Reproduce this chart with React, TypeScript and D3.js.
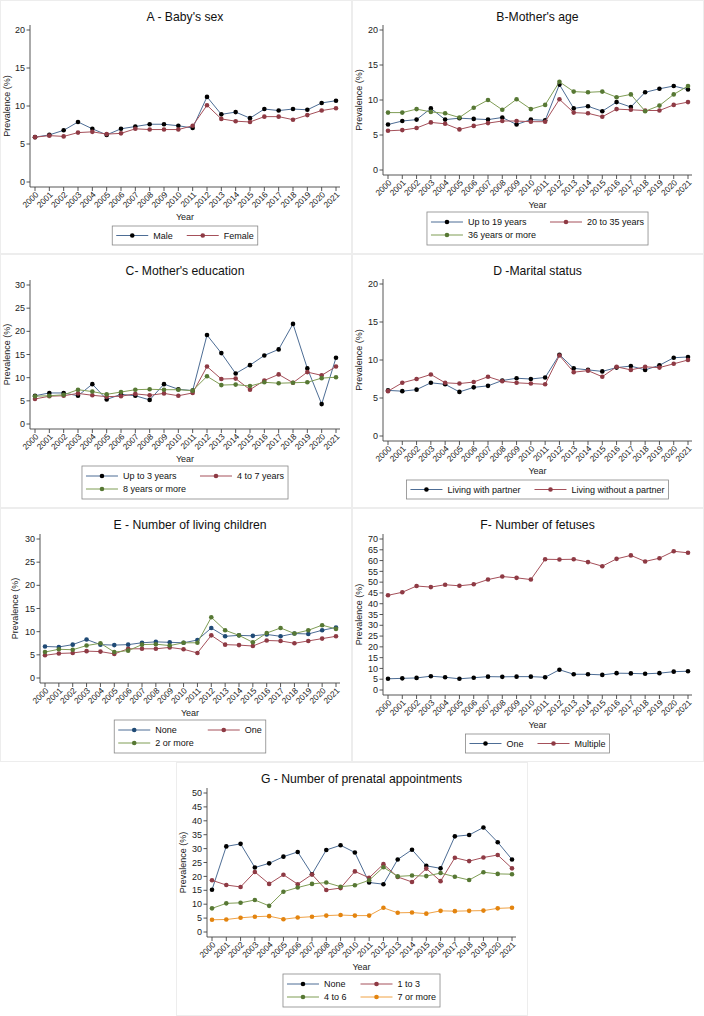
import React from 'react';
import * as d3 from 'd3';

// years on the x axis
const years = [2000, 2001, 2002, 2003, 2004, 2005, 2006, 2007, 2008, 2009, 2010,
  2011, 2012, 2013, 2014, 2015, 2016, 2017, 2018, 2019, 2020, 2021];

// A - Baby's sex
const sexMale = [5.9, 6.2, 6.8, 7.9, 7.0, 6.2, 7.0, 7.3, 7.6, 7.6, 7.4, 7.1, 11.2, 8.9, 9.2, 8.4, 9.6, 9.4, 9.6, 9.5, 10.4, 10.7];
const sexFemale = [5.9, 6.1, 6.0, 6.5, 6.6, 6.3, 6.4, 7.0, 6.9, 6.9, 6.9, 7.4, 10.1, 8.3, 8.0, 7.9, 8.6, 8.6, 8.2, 8.8, 9.4, 9.7];

// B - Mother's age
const ageUpTo19 = [6.5, 7.0, 7.2, 8.8, 7.2, 7.4, 7.3, 7.2, 7.5, 6.5, 7.2, 7.1, 12.2, 8.8, 9.1, 8.4, 9.7, 9.0, 11.1, 11.6, 12.0, 11.5];
const age20to35 = [5.6, 5.7, 6.0, 6.8, 6.6, 5.8, 6.3, 6.7, 7.0, 7.0, 6.9, 6.9, 10.1, 8.2, 8.1, 7.6, 8.7, 8.6, 8.5, 8.5, 9.3, 9.7];
const age36plus = [8.2, 8.2, 8.7, 8.3, 8.1, 7.5, 8.9, 10.0, 8.6, 10.1, 8.7, 9.3, 12.6, 11.2, 11.1, 11.2, 10.4, 10.8, 8.4, 9.2, 10.8, 12.0];

// C - Mother's education
const eduUpTo3 = [6.1, 6.7, 6.7, 6.1, 8.6, 5.3, 6.4, 6.1, 5.2, 8.6, 7.5, 7.2, 19.2, 15.3, 10.9, 12.7, 14.8, 16.1, 21.6, 12.0, 4.3, 14.3];
const edu4to7 = [5.4, 6.0, 6.1, 6.6, 6.2, 5.9, 6.0, 6.5, 6.2, 6.6, 6.1, 6.7, 12.4, 9.7, 9.8, 7.4, 9.4, 10.7, 8.9, 11.2, 10.5, 12.4];
const edu8plus = [6.0, 6.1, 6.3, 7.4, 7.0, 6.4, 6.9, 7.4, 7.5, 7.4, 7.4, 7.2, 10.3, 8.4, 8.5, 8.2, 9.0, 8.8, 8.9, 9.0, 9.9, 10.1];

// D - Marital status
const withPartner = [6.0, 5.9, 6.1, 7.0, 6.8, 5.8, 6.4, 6.6, 7.3, 7.6, 7.5, 7.7, 10.7, 8.9, 8.7, 8.5, 9.0, 9.2, 8.7, 9.3, 10.3, 10.4];
const withoutPartner = [5.9, 7.0, 7.5, 8.1, 7.0, 6.9, 7.1, 7.8, 7.2, 7.0, 6.9, 6.8, 10.6, 8.4, 8.6, 7.8, 9.1, 8.7, 9.1, 9.0, 9.5, 10.0];

// E - Number of living children
const childNone = [6.8, 6.7, 7.2, 8.3, 7.2, 7.1, 7.2, 7.6, 7.8, 7.7, 7.6, 8.2, 10.8, 9.0, 9.2, 9.1, 9.4, 9.0, 9.6, 9.5, 10.3, 10.9];
const childOne = [4.9, 5.3, 5.4, 5.8, 5.7, 5.2, 6.3, 6.3, 6.3, 6.6, 6.2, 5.4, 9.2, 7.2, 7.1, 6.9, 8.1, 8.0, 7.5, 8.0, 8.5, 9.0];
const child2plus = [5.6, 6.2, 6.1, 7.0, 7.5, 5.6, 5.9, 7.2, 7.3, 7.0, 7.6, 7.6, 13.1, 10.3, 9.2, 7.7, 9.7, 10.8, 9.6, 10.3, 11.4, 10.6];

// F - Number of fetuses
const fetusOne = [5.2, 5.4, 5.6, 6.4, 5.9, 5.2, 5.7, 6.2, 6.1, 6.2, 6.2, 5.9, 9.4, 7.3, 7.3, 7.0, 7.8, 7.7, 7.5, 7.8, 8.5, 8.7];
const fetusMultiple = [43.9, 45.3, 48.2, 47.7, 48.8, 48.3, 49.0, 51.2, 52.6, 52.0, 51.2, 60.6, 60.5, 60.6, 59.3, 57.4, 60.8, 62.4, 59.6, 61.1, 64.3, 63.6];

// G - Number of prenatal appointments
const apptNone = [15.2, 30.8, 31.7, 23.2, 24.7, 27.1, 28.8, 20.8, 29.5, 31.2, 28.6, 17.8, 17.2, 26.1, 29.6, 23.8, 22.9, 34.4, 34.9, 37.6, 32.3, 26.1];
const appt1to3 = [18.6, 16.9, 16.2, 21.6, 17.3, 20.6, 17.2, 20.7, 15.1, 15.8, 21.8, 19.5, 24.4, 19.8, 18.0, 22.8, 18.3, 26.7, 25.5, 26.8, 27.7, 22.9];
const appt4to6 = [8.5, 10.3, 10.5, 11.5, 9.4, 14.5, 16.0, 17.3, 17.8, 16.3, 16.8, 18.6, 23.3, 20.0, 20.3, 20.1, 21.2, 19.9, 18.7, 21.5, 20.9, 20.8];
const appt7plus = [4.4, 4.5, 5.1, 5.5, 5.7, 4.6, 5.2, 5.5, 5.9, 6.1, 5.9, 5.9, 8.7, 6.9, 7.0, 6.6, 7.6, 7.5, 7.6, 7.7, 8.5, 8.7];

const FONT = "'Liberation Sans', Arial, Helvetica, sans-serif";

// stata-like colours: line colour / marker colour
const C1 = { line: '#4d6d95', marker: '#000000' };
const C1navy = { line: '#4d6d95', marker: '#1f4a75' };
const C2 = { line: '#a5505a', marker: '#8e3a44' };
const C3 = { line: '#7f9d55', marker: '#577834' };
const C4 = { line: '#f0a245', marker: '#e3840f' };

const panels = [
  {
    key: 'A', ox: 0, oy: 0, title: "A - Baby's sex", yMax: 30 - 10, zeroY: 182, topY: 30, axisX: 30, labelX: 7,
    series: [{ name: 'Male', values: sexMale, ...C1 }, { name: 'Female', values: sexFemale, ...C2 }],
  },
  {
    key: 'B', ox: 352, oy: 0, title: "B-Mother's age", yMax: 20, zeroY: 170, topY: 30, axisX: 31, labelX: 7,
    series: [
      { name: 'Up to 19 years', values: ageUpTo19, ...C1 },
      { name: '20 to 35 years', values: age20to35, ...C2 },
      { name: '36 years or more', values: age36plus, ...C3 },
    ],
  },
  {
    key: 'C', ox: 0, oy: 254, title: "C- Mother's education", yMax: 30, zeroY: 170, topY: 31, axisX: 30, labelX: 7,
    series: [
      { name: 'Up to 3 years', values: eduUpTo3, ...C1 },
      { name: '4 to 7 years', values: edu4to7, ...C2 },
      { name: '8 years or more', values: edu8plus, ...C3 },
    ],
  },
  {
    key: 'D', ox: 352, oy: 254, title: 'D -Marital status', yMax: 20, zeroY: 182, topY: 30, axisX: 31, labelX: 7,
    series: [
      { name: 'Living with partner', values: withPartner, ...C1 },
      { name: 'Living without a partner', values: withoutPartner, ...C2 },
    ],
  },
  {
    key: 'E', ox: 0, oy: 508, title: 'E - Number of living children', yMax: 30, zeroY: 170, topY: 31, axisX: 40, labelX: 15,
    series: [
      { name: 'None', values: childNone, ...C1navy },
      { name: 'One', values: childOne, ...C2 },
      { name: '2 or more', values: child2plus, ...C3 },
    ],
  },
  {
    key: 'F', ox: 352, oy: 508, title: 'F- Number of fetuses', yMax: 70, zeroY: 182, topY: 31, axisX: 31, labelX: 7,
    series: [
      { name: 'One', values: fetusOne, ...C1 },
      { name: 'Multiple', values: fetusMultiple, ...C2 },
    ],
  },
  {
    key: 'G', ox: 176, oy: 762, title: 'G - Number of prenatal appointments', yMax: 50, zeroY: 170, topY: 31, axisX: 31, labelX: 7,
    series: [
      { name: 'None', values: apptNone, ...C1 },
      { name: '1 to 3', values: appt1to3, ...C2 },
      { name: '4 to 6', values: appt4to6, ...C3 },
      { name: '7 or more', values: appt7plus, ...C4 },
    ],
  },
];

const PW = 352;
const PH = 254;
const X_END = 340;
const LAST_X = 336;

let ctx: CanvasRenderingContext2D | null = null;
const textWidth = (s: string, size: number) => {
  if (!ctx) ctx = document.createElement('canvas').getContext('2d');
  if (!ctx) return s.length * size * 0.5;
  ctx.font = `${size}px ${FONT}`;
  return ctx.measureText(s).width;
};

const Panel: React.FC<{ p: any }> = ({ p }) => {
  const x = d3.scaleLinear().domain([2000, 2021]).range([p.axisX + 5, LAST_X]);
  const y = d3.scaleLinear().domain([0, p.yMax]).range([p.zeroY, p.topY]);
  const yTicks = d3.range(0, p.yMax + 1, 5);
  const axisY = p.zeroY + 5;
  const axisTop = p.topY - 5;
  const line = d3.line<number>().x((_, i) => x(years[i])).y(d => y(d));
  const cx = (p.axisX + X_END) / 2;

  // legend layout
  const twoRows = p.series.length > 2;
  const lineLen = 32, gap = 5, colGap = 14, pad = 4, fs = 9;
  const col1 = p.series.filter((_: any, i: number) => i % 2 === 0);
  const col2 = p.series.filter((_: any, i: number) => i % 2 === 1);
  const w1 = d3.max(col1, (s: any) => textWidth(s.name, fs)) as number;
  const w2 = d3.max(col2, (s: any) => textWidth(s.name, fs)) as number;
  const colW = lineLen + gap + w1 + colGap;
  const boxW = pad * 2 + colW + lineLen + gap + w2;
  const boxX = cx - boxW / 2;
  const boxY = twoRows ? 212 : 226;
  const boxH = twoRows ? 33 : 19;
  const rowY = twoRows ? [boxY + 10, boxY + 23] : [boxY + 9.5];

  return (
    <g transform={`translate(${p.ox},${p.oy})`} fontFamily={FONT}>
      <rect x={0.5} y={0.5} width={PW - 1} height={PH - 1} fill="#fff" stroke="#ededed" />
      <text x={cx} y={21} textAnchor="middle" fontSize={12.2} fill="#111">{p.title}</text>

      {/* y axis */}
      <line x1={p.axisX} x2={p.axisX} y1={axisTop} y2={axisY} stroke="#444" strokeWidth={0.9} />
      {yTicks.map(t => (
        <g key={t}>
          <line x1={p.axisX - 3.5} x2={p.axisX} y1={y(t)} y2={y(t)} stroke="#444" strokeWidth={0.9} />
          <text x={p.axisX - 5} y={y(t)} dy="0.35em" textAnchor="end" fontSize={9} fill="#222">{t}</text>
        </g>
      ))}
      <text transform={`translate(${p.labelX},${(p.zeroY + p.topY) / 2}) rotate(-90)`} textAnchor="middle"
        dy="0.35em" fontSize={9} fill="#222">Prevalence (%)</text>

      {/* x axis */}
      <line x1={p.axisX} x2={X_END} y1={axisY} y2={axisY} stroke="#444" strokeWidth={0.9} />
      {years.map(yr => (
        <g key={yr}>
          <line x1={x(yr)} x2={x(yr)} y1={axisY} y2={axisY + 4} stroke="#444" strokeWidth={0.9} />
          <text transform={`translate(${x(yr) + 2},${axisY + 6}) rotate(-45)`} textAnchor="end" dy="0.35em"
            fontSize={8.4} fill="#222">{yr}</text>
        </g>
      ))}
      <text x={cx} y={axisY + 30} dy="0.35em" textAnchor="middle" fontSize={9} fill="#222">Year</text>

      {/* series */}
      {p.series.map((s: any) => (
        <g key={s.name}>
          <path d={line(s.values) || ''} fill="none" stroke={s.line} strokeWidth={1} />
          {s.values.map((v: number, i: number) => (
            <circle key={i} cx={x(years[i])} cy={y(v)} r={2.3} fill={s.marker} />
          ))}
        </g>
      ))}

      {/* legend */}
      <rect x={boxX} y={boxY} width={boxW} height={boxH} fill="#fff" stroke="#888" strokeWidth={0.8} />
      {p.series.map((s: any, i: number) => {
        const lx = boxX + pad + (i % 2) * colW;
        const ly = rowY[Math.floor(i / 2)];
        return (
          <g key={s.name}>
            <line x1={lx} x2={lx + lineLen} y1={ly} y2={ly} stroke={s.line} strokeWidth={1} />
            <circle cx={lx + lineLen / 2} cy={ly} r={2.3} fill={s.marker} />
            <text x={lx + lineLen + gap} y={ly} dy="0.35em" fontSize={fs} fill="#111">{s.name}</text>
          </g>
        );
      })}
    </g>
  );
};

export default function App() {
  return (
    <svg width={704} height={1016} style={{ position: 'absolute', left: 0, top: 0, background: '#fff' }}>
      <rect width={704} height={1016} fill="#fff" />
      {panels.map(p => <Panel key={p.key} p={p} />)}
    </svg>
  );
}
